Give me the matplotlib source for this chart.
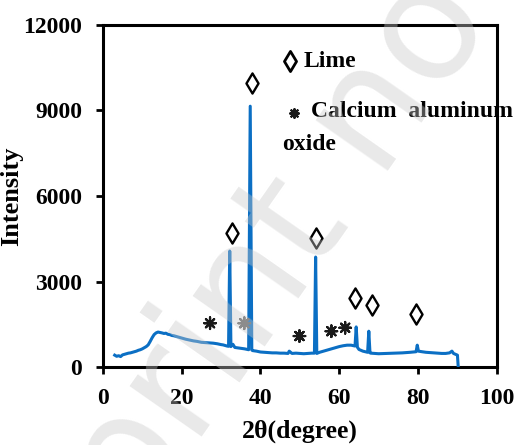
import matplotlib
matplotlib.use("Agg")
import matplotlib.pyplot as plt

# XRD pattern (2-theta in degrees, intensity in counts)
two_theta = [3, 3.5, 4, 4.5, 5, 5.5, 6, 6.5, 7, 7.5, 8, 8.5, 9, 9.5, 10, 10.5,
             11, 11.5, 12, 12.5, 13, 13.5, 14, 14.5, 15, 15.5, 16, 16.5, 17,
             17.5, 18, 18.5, 19, 19.5, 20, 21, 22, 23, 24, 25, 26, 27, 28, 29,
             30, 30.5, 31, 31.5, 31.9, 32.2, 32.5, 33, 33.5, 34, 35, 36, 37.0,
             37.4, 37.8, 38, 39, 40, 41, 42, 43, 44, 45, 46, 47, 47.3, 48, 49,
             50, 51, 52, 53, 53.7, 54.0, 54.3, 55, 56, 57, 58, 59, 60, 61, 62,
             63, 64.0, 64.3, 64.6, 65, 66, 67.2, 67.5, 67.8, 68, 69, 70, 72, 74,
             76, 78, 79.5, 79.8, 80.1, 81, 82, 84, 86, 87, 88, 88.6, 89, 89.5,
             90, 90.2]
intensity = [420, 380, 400, 370, 430, 450, 470, 490, 500, 520, 540, 560, 590,
             610, 640, 680, 720, 780, 900, 1030, 1140, 1200, 1230, 1215, 1200,
             1180, 1190, 1150, 1140, 1110, 1100, 1080, 1060, 1040, 1020, 980,
             950, 920, 900, 870, 860, 850, 840, 820, 790, 780, 760, 740, 730,
             4070, 720, 800, 690, 680, 660, 640, 610, 9150, 600, 580, 560, 530,
             520, 510, 500, 500, 490, 490, 480, 560, 480, 490, 480, 470, 480,
             490, 490, 3860, 480, 520, 560, 600, 640, 680, 720, 750, 770, 770,
             740, 1410, 700, 620, 560, 520, 1260, 500, 490, 480, 470, 480, 490,
             500, 520, 540, 770, 560, 540, 520, 500, 480, 480, 500, 560, 480,
             450, 420, 0]

# phase markers
lime_x = [32.7, 37.8, 54.1, 63.9, 68.4, 79.5]
lime_y = [4700, 9950, 4520, 2420, 2180, 1850]
cao_x = [27.2, 35.9, 49.9, 58.0, 61.5]
cao_y = [1540, 1540, 1090, 1260, 1380]
cao_col = ['#1a1a1a', '#666666', '#1a1a1a', '#1a1a1a', '#1a1a1a']

SERIF = ['Liberation Serif', 'DejaVu Serif']
STAR = (8, 2, 0)

fig = plt.figure(figsize=(5.17, 4.45), dpi=100)
ax = fig.add_axes([0.199, 0.175, 0.762, 0.769])

ax.plot(two_theta, intensity, color='#0B6FC4', lw=2.2, zorder=3)

ax.scatter(lime_x, lime_y, marker='d', s=105, facecolor='white',
           edgecolor='black', linewidth=1.7, zorder=4)
ax.scatter(cao_x, cao_y, marker=STAR, s=70, color=cao_col,
           linewidth=1.6, zorder=4)

# legend-like text block
ax.scatter([47.5], [10750], marker='d', s=105, facecolor='white',
           edgecolor='black', linewidth=2.0, zorder=4)
ax.text(51.0, 10720, 'Lime', ha='left', va='center', fontsize=17,
        fontweight='bold', family=SERIF)
ax.scatter([48.5], [8900], marker=STAR, s=40, color='#1a1a1a',
           linewidth=1.5, zorder=4)
ax.text(52.8, 8950, 'Calcium  aluminum', ha='left', va='center',
        fontsize=17, fontweight='bold', family=SERIF, clip_on=False)
ax.text(45.5, 7800, 'oxide', ha='left', va='center', fontsize=17,
        fontweight='bold', family=SERIF)

ax.set_xlim(0, 100)
ax.set_ylim(0, 12000)
ax.set_xticks([0, 20, 40, 60, 80, 100])
ax.set_yticks([0, 3000, 6000, 9000, 12000])
for lab in ax.get_xticklabels() + ax.get_yticklabels():
    lab.set_family(SERIF)
    lab.set_fontweight('bold')
    lab.set_fontsize(17)
ax.tick_params(direction='out', length=5, width=2)
ax.tick_params(axis='x', pad=10)
ax.tick_params(axis='y', pad=10)
for s in ax.spines.values():
    s.set_linewidth(2.2)

ax.set_xlabel('2\u03b8(degree)', fontsize=18.5, fontweight='bold',
              family=SERIF, labelpad=8)
ax.set_ylabel('Intensity', fontsize=19, fontweight='bold', family=SERIF,
              labelpad=0)

# faint watermark laid over the chart
fig.text(0.54, 0.44, 'print no', rotation=55, fontsize=115, color='#c8c8c8',
         alpha=0.4, ha='center', va='center', family='DejaVu Sans', zorder=10)

fig.savefig('out.png', dpi=100, facecolor='white')
